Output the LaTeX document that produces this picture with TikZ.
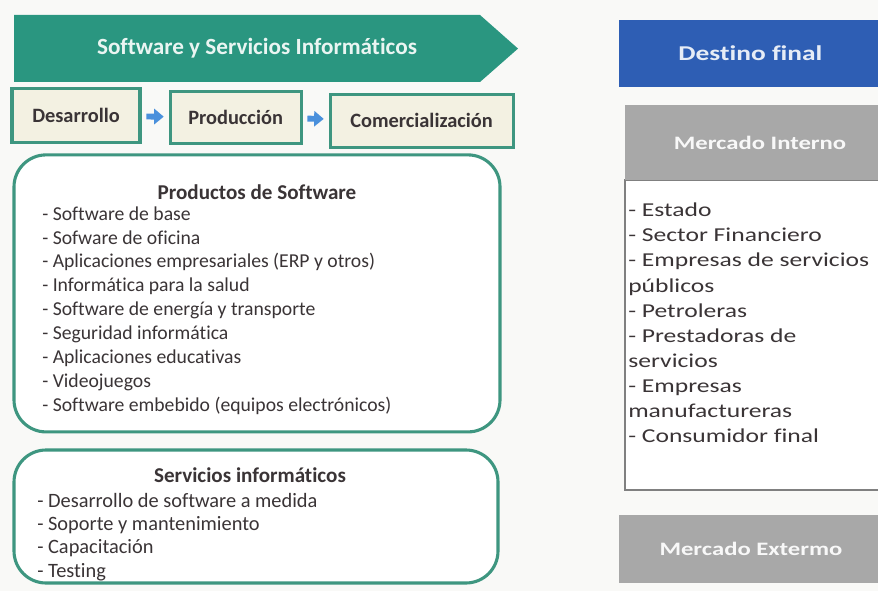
\documentclass[tikz,border=0pt]{standalone}
\usepackage{fontspec}
\setmainfont{Carlito}[Ligatures=NoCommon]
\newfontfamily\widefont[FakeStretch=1.3,Ligatures=NoCommon]{Carlito}
\usepackage{xcolor}
\usepackage{tikz}
\usetikzlibrary{arrows.meta,positioning}

\definecolor{sectorgreen}{RGB}{42,150,128}
\definecolor{stageedge}{RGB}{62,150,128}
\definecolor{stagefill}{RGB}{243,241,226}
\definecolor{flowblue}{RGB}{74,144,220}
\definecolor{destblue}{RGB}{46,94,180}
\definecolor{marketgray}{RGB}{168,168,168}
\definecolor{listedge}{RGB}{128,128,128}
\definecolor{inkgray}{RGB}{58,52,54}
\definecolor{paper}{RGB}{249,249,247}

\begin{document}
\begin{tikzpicture}[
    font=\fontsize{14}{17}\selectfont,
    text=inkgray,
    stage/.style={rectangle, draw=stageedge, line width=2.2pt, fill=stagefill, inner sep=0pt,
                  font=\fontsize{14.5}{17}\selectfont\bfseries},
    panel/.style={rectangle, draw=stageedge, line width=2.2pt, rounded corners=0.8cm, fill=white},
    paneltitle/.style={font=\fontsize{15}{17}\selectfont\bfseries},
    list/.style={align=left, inner sep=0pt, anchor=north west},
    market/.style={rectangle, fill=marketgray, inner sep=0pt, text=white!92!marketgray,
                   font=\widefont\fontsize{13.5}{16}\selectfont\bfseries},
    flow/.style={-{Triangle[length=0.24cm,width=0.38cm]}, line width=4.2pt, draw=flowblue,
                 shorten <=0.12cm, shorten >=0.12cm}
]
\fill[paper] (0,0) rectangle (21.95,14.775);
\useasboundingbox (0,0) rectangle (21.95,14.775);
% Sector banner (top left)
\fill[sectorgreen] (0.35,14.4) -- (12.0,14.4) -- (12.95,13.56) -- (12.0,12.725) -- (0.35,12.725) -- cycle;
\node[font=\fontsize{16.5}{18}\selectfont\bfseries, text=white!90!sectorgreen] (sector) at (6.425,13.56)
     {Software y Servicios Informáticos};
% Value chain stages
\node[stage, minimum width=3.2cm,   minimum height=1.35cm]  (des)  at (1.9,11.88)  {Desarrollo};
\node[stage, minimum width=3.275cm, minimum height=1.3cm]   (prod) at (5.89,11.84)  {Producción};
\node[stage, minimum width=4.575cm, minimum height=1.325cm] (com)  at (10.54,11.76) {Comercialización};
% Software products
\node[panel, minimum width=12.15cm, minimum height=6.925cm] (sw) at (6.425,7.44) {};
\node[paneltitle] (swtitle) at (6.425,9.975) {Productos de Software};
\node[list] (swlist) at (1.05,9.62)
     {- Software de base\\ - Sofware de oficina\\ - Aplicaciones empresariales (ERP y otros)\\
      - Informática para la salud\\ - Software de energía y transporte\\ - Seguridad informática\\
      - Aplicaciones educativas\\ - Videojuegos\\ - Software embebido (equipos electrónicos)};
% IT services
\node[panel, minimum width=12.1cm, minimum height=3.325cm] (svc) at (6.4,1.8625) {};
\node[paneltitle] (svctitle) at (6.25,2.9) {Servicios informáticos};
\node[list, font=\fontsize{14.5}{16.5}\selectfont] (svclist) at (0.925,2.45)
     {- Desarrollo de software a medida\\ - Soporte y mantenimiento\\ - Capacitación\\ - Testing};
% Final destination (right)
\node[rectangle, fill=destblue, minimum width=6.575cm, minimum height=1.675cm, text=white!88!destblue,
      font=\widefont\fontsize{15}{17}\selectfont\bfseries] (dest) at (18.76,13.44) {Destino final};
\node[rectangle, draw=listedge, line width=1.5pt, fill=white, minimum width=6.75cm, minimum height=7.75cm]
     (mintbox) at (19.0,6.4) {};
\node[market, minimum width=6.75cm, minimum height=1.875cm] (mint) at (19.0,11.2125) {Mercado Interno};
\node[list, font=\widefont\fontsize{14}{17.8}\selectfont] (mintlist) at (15.7,9.7)
     {- Estado\\ - Sector Financiero\\ - Empresas de servicios\\ públicos\\ - Petroleras\\
      - Prestadoras de\\ servicios\\ - Empresas\\ manufactureras\\ - Consumidor final};
\node[market, minimum width=6.6cm, minimum height=1.7cm] (mext) at (18.775,1.05) {Mercado Extermo};
% Edges
\draw[flow] (des)  -- (prod);
\draw[flow] (prod) -- (com);
\end{tikzpicture}
\end{document}
